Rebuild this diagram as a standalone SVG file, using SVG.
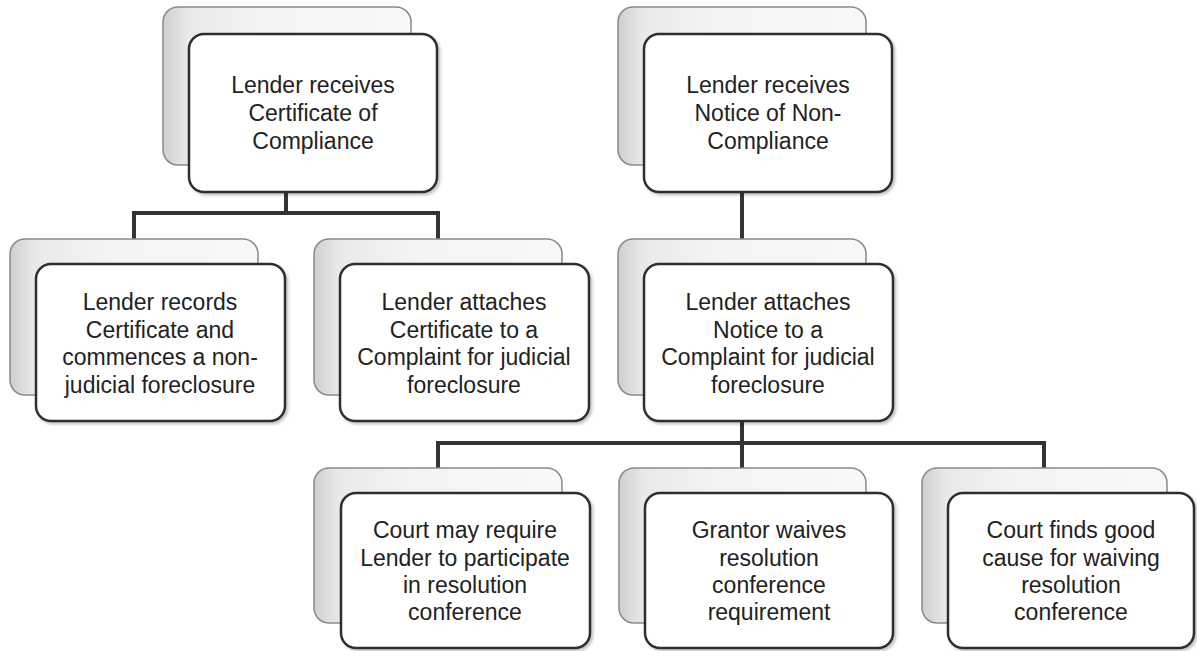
<svg xmlns="http://www.w3.org/2000/svg" width="1197" height="651" viewBox="0 0 1197 651">
<style>
.back{fill:url(#bg);stroke:#8a8a8a;stroke-width:1.5}
.front{fill:#ffffff;stroke:#2e2e2e;stroke-width:2.5;filter:url(#ds)}
.lbl{font-family:"Liberation Sans",Arial,sans-serif;font-size:23px;fill:#222;text-anchor:middle}
.conn{fill:none;stroke:#333;stroke-width:4;stroke-linecap:square}
</style>
<defs>
<linearGradient id="bg" x1="0" y1="0" x2="1" y2="0">
<stop offset="0" stop-color="#cfcfcf"/>
<stop offset="0.1" stop-color="#e9e9e9"/>
<stop offset="0.4" stop-color="#f4f4f4"/>
<stop offset="1" stop-color="#f8f8f8"/>
</linearGradient>
<filter id="ds" x="-5%" y="-5%" width="112%" height="112%">
<feGaussianBlur in="SourceAlpha" stdDeviation="1.5"/>
<feOffset dx="1.5" dy="1.5" result="o"/>
<feComponentTransfer><feFuncA type="linear" slope="0.25"/></feComponentTransfer>
<feMerge><feMergeNode/><feMergeNode in="SourceGraphic"/></feMerge>
</filter>
</defs>
<g id="connectors">
<path class="conn" d="M286 192 V213 M134 213 H438 M134 213 V239 M438 213 V239"/>
<path class="conn" d="M742 192 V239"/>
<path class="conn" d="M742 421 V443 M438 443 H1044 M438 443 V468 M742 443 V468 M1044 443 V468"/>
</g>
<g id="n1">
<rect class="back" x="163" y="7" width="248" height="158" rx="15"/>
<rect class="front" x="189" y="34" width="248" height="158" rx="15"/>
<text class="lbl"><tspan x="313" y="93">Lender receives</tspan><tspan x="313" y="121">Certificate of</tspan><tspan x="313" y="149">Compliance</tspan></text>
</g>
<g id="n2">
<rect class="back" x="618" y="7" width="248" height="158" rx="15"/>
<rect class="front" x="644" y="34" width="248" height="158" rx="15"/>
<text class="lbl"><tspan x="768" y="93">Lender receives</tspan><tspan x="768" y="121">Notice of Non-</tspan><tspan x="768" y="149">Compliance</tspan></text>
</g>
<g id="n3">
<rect class="back" x="10" y="239" width="248" height="156" rx="15"/>
<rect class="front" x="36" y="264" width="249" height="157" rx="15"/>
<text class="lbl"><tspan x="160" y="310">Lender records</tspan><tspan x="160" y="338">Certificate and</tspan><tspan x="160" y="365">commences a non-</tspan><tspan x="160" y="393">judicial foreclosure</tspan></text>
</g>
<g id="n4">
<rect class="back" x="314" y="239" width="248" height="156" rx="15"/>
<rect class="front" x="340" y="264" width="249" height="157" rx="15"/>
<text class="lbl"><tspan x="464" y="310">Lender attaches</tspan><tspan x="464" y="338">Certificate to a</tspan><tspan x="464" y="365">Complaint for judicial</tspan><tspan x="464" y="393">foreclosure</tspan></text>
</g>
<g id="n5">
<rect class="back" x="618" y="239" width="248" height="156" rx="15"/>
<rect class="front" x="644" y="264" width="249" height="157" rx="15"/>
<text class="lbl"><tspan x="768" y="310">Lender attaches</tspan><tspan x="768" y="338">Notice to a</tspan><tspan x="768" y="365">Complaint for judicial</tspan><tspan x="768" y="393">foreclosure</tspan></text>
</g>
<g id="n6">
<rect class="back" x="314" y="468" width="248" height="155" rx="15"/>
<rect class="front" x="341" y="493" width="249" height="155" rx="15"/>
<text class="lbl"><tspan x="465" y="538">Court may require</tspan><tspan x="465" y="566">Lender to participate</tspan><tspan x="465" y="593">in resolution</tspan><tspan x="465" y="620">conference</tspan></text>
</g>
<g id="n7">
<rect class="back" x="619" y="468" width="247" height="155" rx="15"/>
<rect class="front" x="645" y="493" width="248" height="155" rx="15"/>
<text class="lbl"><tspan x="769" y="538">Grantor waives</tspan><tspan x="769" y="566">resolution</tspan><tspan x="769" y="593">conference</tspan><tspan x="769" y="620">requirement</tspan></text>
</g>
<g id="n8">
<rect class="back" x="922" y="468" width="245" height="155" rx="15"/>
<rect class="front" x="948" y="493" width="246" height="155" rx="15"/>
<text class="lbl"><tspan x="1071" y="538">Court finds good</tspan><tspan x="1071" y="566">cause for waiving</tspan><tspan x="1071" y="593">resolution</tspan><tspan x="1071" y="620">conference</tspan></text>
</g>
</svg>
